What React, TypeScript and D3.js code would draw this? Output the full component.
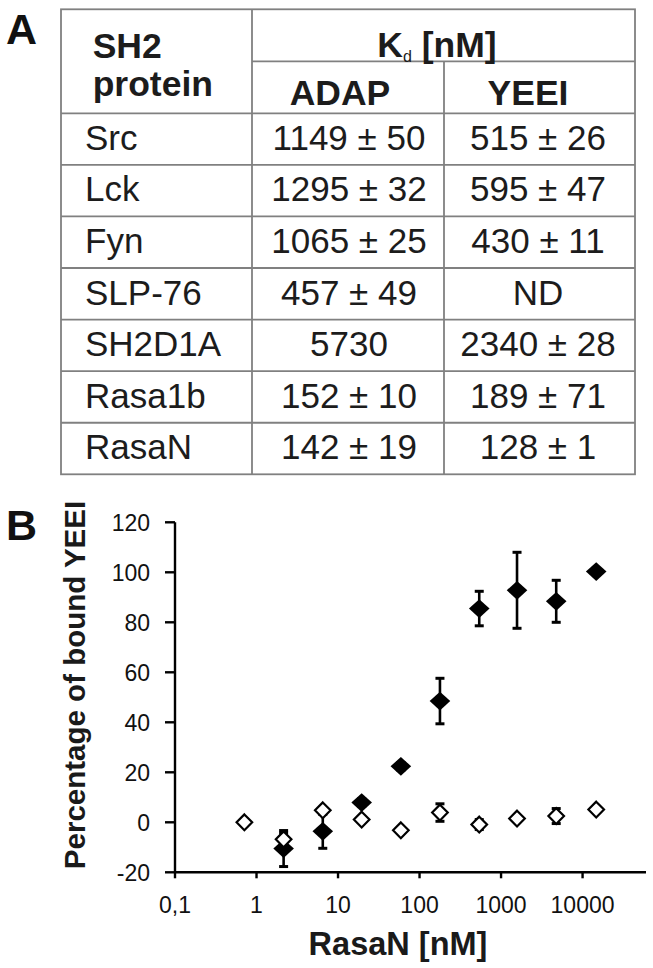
import React from "react";
import * as d3 from "d3";

// ---------- Data ----------
const proteins = ["Src", "Lck", "Fyn", "SLP-76", "SH2D1A", "Rasa1b", "RasaN"];
const kdADAP = ["1149 ± 50", "1295 ± 32", "1065 ± 25", "457 ± 49", "5730", "152 ± 10", "142 ± 19"];
const kdYEEI = ["515 ± 26", "595 ± 47", "430 ± 11", "ND", "2340 ± 28", "189 ± 71", "128 ± 1"];

const concentrations = [0.71, 2.15, 6.5, 19.5, 59, 178, 540, 1570, 4750, 14700];
const filledValues = [-10.5, -3.6, 7.9, 22.4, 48.5, 85.5, 92.8, 88.4, 100.3];
const filledErrors = [7.2, 6.8, 1.5, 1.5, 9.1, 6.9, 15.2, 8.4, 1.2];
const openValues = [0, -6.8, 4.8, 1.1, -3.2, 3.9, -0.9, 1.5, 2.5, 5.1];
const openErrors = [0, 2.5, 1, 1, 0.5, 3.5, 2, 0.5, 3, 1];

const xTicks = [0.1, 1, 10, 100, 1000, 10000];
const xTickLabels = ["0,1", "1", "10", "100", "1000", "10000"];
const yTicks = [-20, 0, 20, 40, 60, 80, 100, 120];
const xAxisMax = 60000;

const FONT = "'Liberation Sans', Arial, Helvetica, sans-serif";

function diamond(cx: number, cy: number, w: number, h: number) {
  return `M${cx},${cy - h}L${cx + w},${cy}L${cx},${cy + h}L${cx - w},${cy}Z`;
}

export default function App() {
  // Table layout
  const colX = [61, 252, 444, 635];
  const tableTop = 9.3;
  const kdLineY = 61.3;
  const headerBottom = 113.3;
  const rowY = d3.scaleLinear().domain([0, proteins.length]).range([headerBottom, 474.3]);
  const gridColor = "#808080";
  const textColor = "#1c1c1c";
  const adapCenter = 349;
  const yeeiCenter = 538;

  // Chart scales
  const x = d3.scaleLog().domain([0.1, xAxisMax]).range([175, 646]);
  const y = d3.scaleLinear().domain([-20, 120]).range([872.3, 522.3]);

  const filledConc = concentrations.slice(1);

  return (
    <svg
      width={653}
      height={968}
      style={{ position: "absolute", left: 0, top: 0, background: "#fff" }}
      fontFamily={FONT}
    >
      <rect x={0} y={0} width={653} height={968} fill="#fff" />
      {/* Panel labels */}
      <text x={6} y={44} fontSize={43} fontWeight="bold" fill="#111">A</text>
      <text x={6} y={540} fontSize={43} fontWeight="bold" fill="#111">B</text>

      {/* ---------- Table ---------- */}
      <g stroke={gridColor} strokeWidth={1.8} fill="none">
        <rect x={colX[0]} y={tableTop} width={colX[3] - colX[0]} height={rowY(proteins.length) - tableTop} />
        <line x1={colX[1]} x2={colX[1]} y1={tableTop} y2={rowY(proteins.length)} />
        <line x1={colX[2]} x2={colX[2]} y1={kdLineY} y2={rowY(proteins.length)} />
        <line x1={colX[1]} x2={colX[3]} y1={kdLineY} y2={kdLineY} />
        {d3.range(proteins.length).map((i) => (
          <line key={i} x1={colX[0]} x2={colX[3]} y1={rowY(i)} y2={rowY(i)} />
        ))}
      </g>

      <g fill={textColor} fontWeight="bold" fontSize={35.5}>
        <text x={92.7} y={58.3}>SH2</text>
        <text x={92.7} y={96}>protein</text>
        <text x={437} y={56.7} textAnchor="middle">
          <tspan>K</tspan>
          <tspan fontSize={16} fontWeight="normal" dy={5}>d</tspan>
          <tspan dy={-5}> [nM]</tspan>
        </text>
        <text x={340} y={105} textAnchor="middle">ADAP</text>
        <text x={528} y={105} textAnchor="middle">YEEI</text>
      </g>

      <g fill={textColor} fontSize={35}>
        {proteins.map((p, i) => (
          <g key={p}>
            <text x={85} y={rowY(i) + 36.5}>{p}</text>
            <text x={adapCenter} y={rowY(i) + 36.5} textAnchor="middle">{kdADAP[i]}</text>
            <text x={yeeiCenter} y={rowY(i) + 36.5} textAnchor="middle">{kdYEEI[i]}</text>
          </g>
        ))}
      </g>

      {/* ---------- Chart ---------- */}
      {/* axes */}
      <g stroke="#000" strokeWidth={2.4}>
        <line x1={x(0.1)} x2={x(0.1)} y1={y(120)} y2={y(-20)} />
        <line x1={x(0.1) - 1} x2={x(xAxisMax)} y1={y(-20)} y2={y(-20)} />
        {yTicks.map((t) => (
          <line key={t} x1={x(0.1) - 10} x2={x(0.1)} y1={y(t)} y2={y(t)} />
        ))}
        {xTicks.map((t) => (
          <line key={t} x1={x(t)} x2={x(t)} y1={y(-20)} y2={y(-20) + 6} />
        ))}
      </g>
      <g fontSize={23} fill="#111">
        {yTicks.map((t) => (
          <text key={t} x={150} y={y(t)} dy="0.36em" textAnchor="end">{t}</text>
        ))}
        {xTicks.map((t, i) => (
          <text key={t} x={x(t)} y={912.7} textAnchor="middle">{xTickLabels[i]}</text>
        ))}
      </g>
      <text x={398} y={955} textAnchor="middle" fontSize={32.5} fontWeight="bold" fill="#1a1a1a">
        RasaN [nM]
      </text>
      <text
        transform={`translate(85, 685) rotate(-90)`}
        textAnchor="middle"
        fontSize={29.5}
        fontWeight="bold"
        fill="#1a1a1a"
      >
        Percentage of bound YEEI
      </text>

      {/* filled series error bars */}
      <g stroke="#000" strokeWidth={2.6}>
        {filledConc.map((c, i) => {
          const cx = x(c);
          const e = filledErrors[i];
          const v = filledValues[i];
          return (
            <g key={c}>
              <line x1={cx} x2={cx} y1={y(v - e)} y2={y(v + e)} />
              <line x1={cx - 4.5} x2={cx + 4.5} y1={y(v - e)} y2={y(v - e)} strokeWidth={3} />
              <line x1={cx - 4.5} x2={cx + 4.5} y1={y(v + e)} y2={y(v + e)} strokeWidth={3} />
            </g>
          );
        })}
      </g>
      <g fill="#000">
        {filledConc.map((c, i) => (
          <path key={c} d={diamond(x(c), y(filledValues[i]), 10.3, 9.4)} />
        ))}
      </g>

      {/* open series */}
      <g stroke="#000" strokeWidth={2.4}>
        {concentrations.map((c, i) => {
          const cx = x(c);
          const e = openErrors[i];
          const v = openValues[i];
          if (e <= 0) return null;
          return (
            <g key={c}>
              <line x1={cx} x2={cx} y1={y(v - e)} y2={y(v + e)} />
              <line x1={cx - 4.5} x2={cx + 4.5} y1={y(v - e)} y2={y(v - e)} strokeWidth={3} />
              <line x1={cx - 4.5} x2={cx + 4.5} y1={y(v + e)} y2={y(v + e)} strokeWidth={3} />
            </g>
          );
        })}
      </g>
      <g fill="#fff" stroke="#000" strokeWidth={2.2}>
        {concentrations.map((c, i) => (
          <path key={c} d={diamond(x(c), y(openValues[i]), 7.8, 7.9)} />
        ))}
      </g>
    </svg>
  );
}
